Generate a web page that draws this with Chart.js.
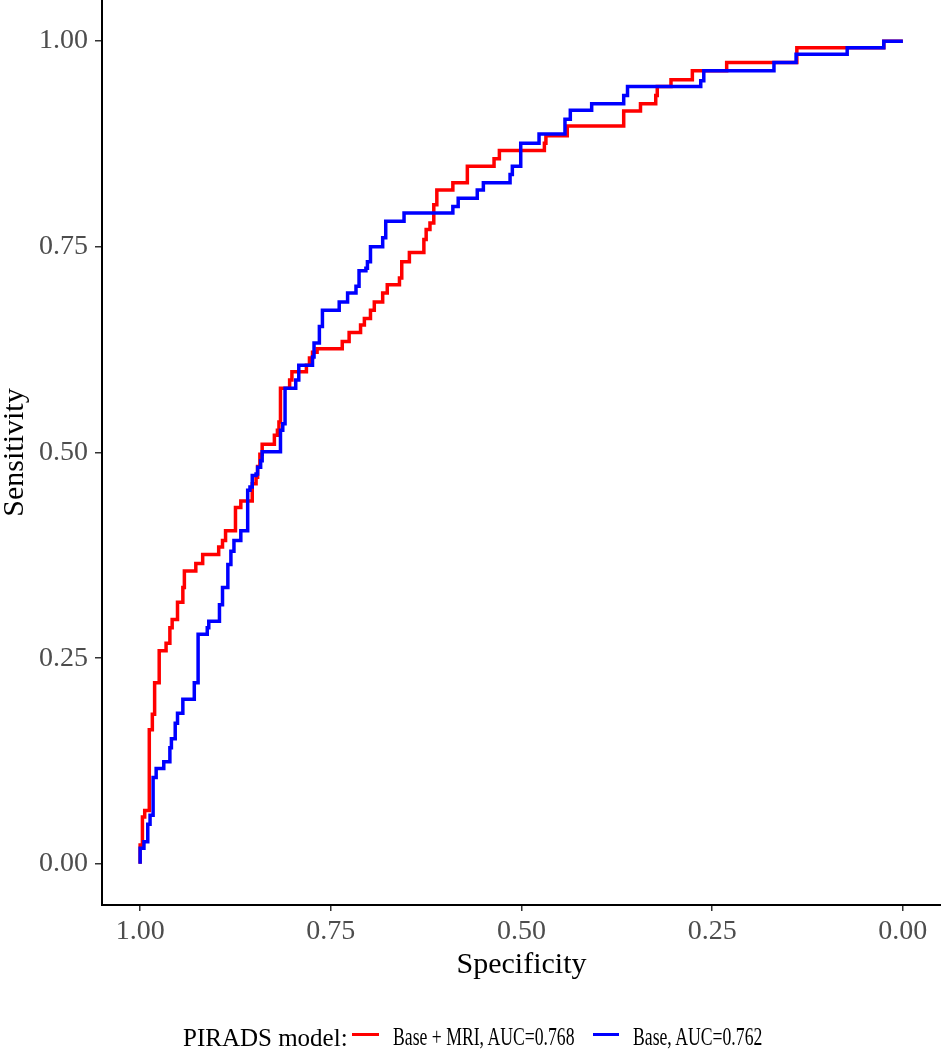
<!DOCTYPE html>
<html>
<head>
<meta charset="utf-8">
<script src="https://cdn.jsdelivr.net/npm/chart.js@4.4.0/dist/chart.umd.min.js"></script>
<style>
  html, body { margin: 0; padding: 0; background: #fff; }
  #wrap { position: relative; width: 941px; height: 1050px; }
  #c { position: absolute; left: 0; top: 0; }
  .lg { position: absolute; font-family: "Liberation Serif", "Times New Roman", serif; color: #000; white-space: nowrap; line-height: 1; }
  .key { position: absolute; height: 3px; }
</style>
</head>
<body>
<div id="wrap">
  <canvas id="c" width="941" height="1050"></canvas>
  <div class="lg" style="left:183px; top:1025px; font-size:25px;">PIRADS model:</div>
  <div class="key" style="left:352px; top:1033px; width:27px; background:#FF0000;"></div>
  <div class="lg" style="left:393px; top:1024px; font-size:26px; transform:scaleX(0.68); transform-origin:left center;">Base + MRI, AUC=0.768</div>
  <div class="key" style="left:593px; top:1033px; width:26px; background:#0000FF;"></div>
  <div class="lg" style="left:633px; top:1024px; font-size:26px; transform:scaleX(0.68); transform-origin:left center;">Base, AUC=0.762</div>
</div>
<script>
// ---- Data ----
const tickValues = [0, 0.25, 0.5, 0.75, 1];

const seriesNames = ["Base + MRI, AUC=0.768", "Base, AUC=0.762"];

const mriSpec = [1.000, 0.997, 0.994, 0.988, 0.984, 0.981, 0.975, 0.966, 0.961, 0.958, 0.951, 0.944, 0.942, 0.927, 0.918, 0.897, 0.892, 0.888, 0.875, 0.868, 0.853, 0.848, 0.846, 0.843, 0.840, 0.824, 0.820, 0.818, 0.816, 0.804, 0.801, 0.782, 0.778, 0.774, 0.768, 0.735, 0.726, 0.711, 0.706, 0.698, 0.693, 0.682, 0.676, 0.660, 0.657, 0.647, 0.628, 0.625, 0.620, 0.615, 0.611, 0.590, 0.571, 0.536, 0.529, 0.470, 0.468, 0.440, 0.366, 0.344, 0.324, 0.322, 0.304, 0.276, 0.231, 0.139, 0.025, 0.000];
const mriSens = [0.000, 0.023, 0.057, 0.065, 0.163, 0.182, 0.220, 0.259, 0.268, 0.287, 0.297, 0.318, 0.336, 0.356, 0.365, 0.376, 0.385, 0.393, 0.405, 0.433, 0.441, 0.462, 0.470, 0.483, 0.498, 0.510, 0.521, 0.527, 0.537, 0.578, 0.588, 0.598, 0.606, 0.615, 0.622, 0.626, 0.635, 0.646, 0.655, 0.663, 0.673, 0.683, 0.694, 0.704, 0.712, 0.732, 0.743, 0.759, 0.771, 0.779, 0.801, 0.819, 0.828, 0.848, 0.857, 0.867, 0.876, 0.885, 0.897, 0.915, 0.924, 0.934, 0.945, 0.953, 0.964, 0.974, 0.992, 1.000];

const baseSpec = [1.000, 0.995, 0.990, 0.987, 0.983, 0.979, 0.969, 0.961, 0.959, 0.954, 0.951, 0.944, 0.929, 0.924, 0.912, 0.910, 0.896, 0.892, 0.885, 0.881, 0.877, 0.868, 0.859, 0.856, 0.853, 0.848, 0.846, 0.842, 0.840, 0.816, 0.813, 0.810, 0.796, 0.792, 0.774, 0.772, 0.765, 0.761, 0.739, 0.728, 0.717, 0.713, 0.704, 0.702, 0.698, 0.682, 0.678, 0.654, 0.590, 0.583, 0.558, 0.550, 0.515, 0.512, 0.501, 0.477, 0.443, 0.436, 0.408, 0.366, 0.361, 0.265, 0.261, 0.169, 0.140, 0.073, 0.025, 0.000];
const baseSens = [0.000, 0.019, 0.027, 0.048, 0.059, 0.105, 0.116, 0.124, 0.141, 0.152, 0.171, 0.183, 0.200, 0.220, 0.279, 0.287, 0.295, 0.315, 0.336, 0.364, 0.380, 0.393, 0.405, 0.454, 0.458, 0.472, 0.474, 0.482, 0.490, 0.501, 0.527, 0.535, 0.578, 0.588, 0.606, 0.616, 0.633, 0.653, 0.673, 0.683, 0.694, 0.702, 0.721, 0.724, 0.732, 0.750, 0.761, 0.781, 0.791, 0.799, 0.809, 0.819, 0.828, 0.838, 0.848, 0.876, 0.887, 0.905, 0.916, 0.924, 0.934, 0.945, 0.952, 0.964, 0.974, 0.984, 0.992, 1.000];

function toPoints(xs, ys) { return xs.map((x, i) => ({ x: x, y: ys[i] })); }

const serif = "'Liberation Serif', 'Times New Roman', serif";

new Chart(document.getElementById('c'), {
  type: 'line',
  data: {
    datasets: [
      { label: seriesNames[0], data: toPoints(mriSpec, mriSens), borderColor: '#FF0000', borderWidth: 3.5, pointRadius: 0, stepped: 'after', fill: false, order: 1 },
      { label: seriesNames[1], data: toPoints(baseSpec, baseSens), borderColor: '#0000FF', borderWidth: 3.5, pointRadius: 0, stepped: 'after', fill: false, order: 0 }
    ]
  },
  options: {
    responsive: false,
    animation: false,
    devicePixelRatio: 1,
    layout: { padding: 0 },
    plugins: { legend: { display: false }, tooltip: { enabled: false } },
    scales: {
      x: {
        type: 'linear',
        reverse: true,
        min: -0.05, max: 1.05,
        afterBuildTicks: s => { s.ticks = tickValues.map(v => ({ value: v })); },
        afterFit: s => { s.height = 145; s.paddingLeft = 0; s.paddingRight = 0; },
        ticks: { callback: v => Number(v).toFixed(2), color: '#4D4D4D', font: { family: serif, size: 28 }, padding: 4, maxRotation: 0, autoSkip: false },
        grid: { display: true, drawOnChartArea: false, drawTicks: true, tickLength: 6, color: '#333333', lineWidth: 1.5 },
        border: { display: true, color: '#000000', width: 2 },
        title: { display: true, text: 'Specificity', color: '#000', font: { family: serif, size: 30, lineHeight: 1 }, padding: { top: 0, bottom: 70 } }
      },
      y: {
        type: 'linear',
        min: -0.05, max: 1.05,
        afterBuildTicks: s => { s.ticks = tickValues.map(v => ({ value: v })); },
        afterFit: s => { s.width = 102; s.paddingTop = 0; s.paddingBottom = 0; },
        ticks: { callback: v => Number(v).toFixed(2), color: '#4D4D4D', font: { family: serif, size: 28 }, padding: 7, autoSkip: false },
        grid: { display: true, drawOnChartArea: false, drawTicks: true, tickLength: 7, color: '#333333', lineWidth: 1.5 },
        border: { display: true, color: '#000000', width: 2 },
        title: { display: true, text: 'Sensitivity', color: '#000', font: { family: serif, size: 30, lineHeight: 1 }, padding: 0 }
      }
    }
  }
});
</script>
</body>
</html>
